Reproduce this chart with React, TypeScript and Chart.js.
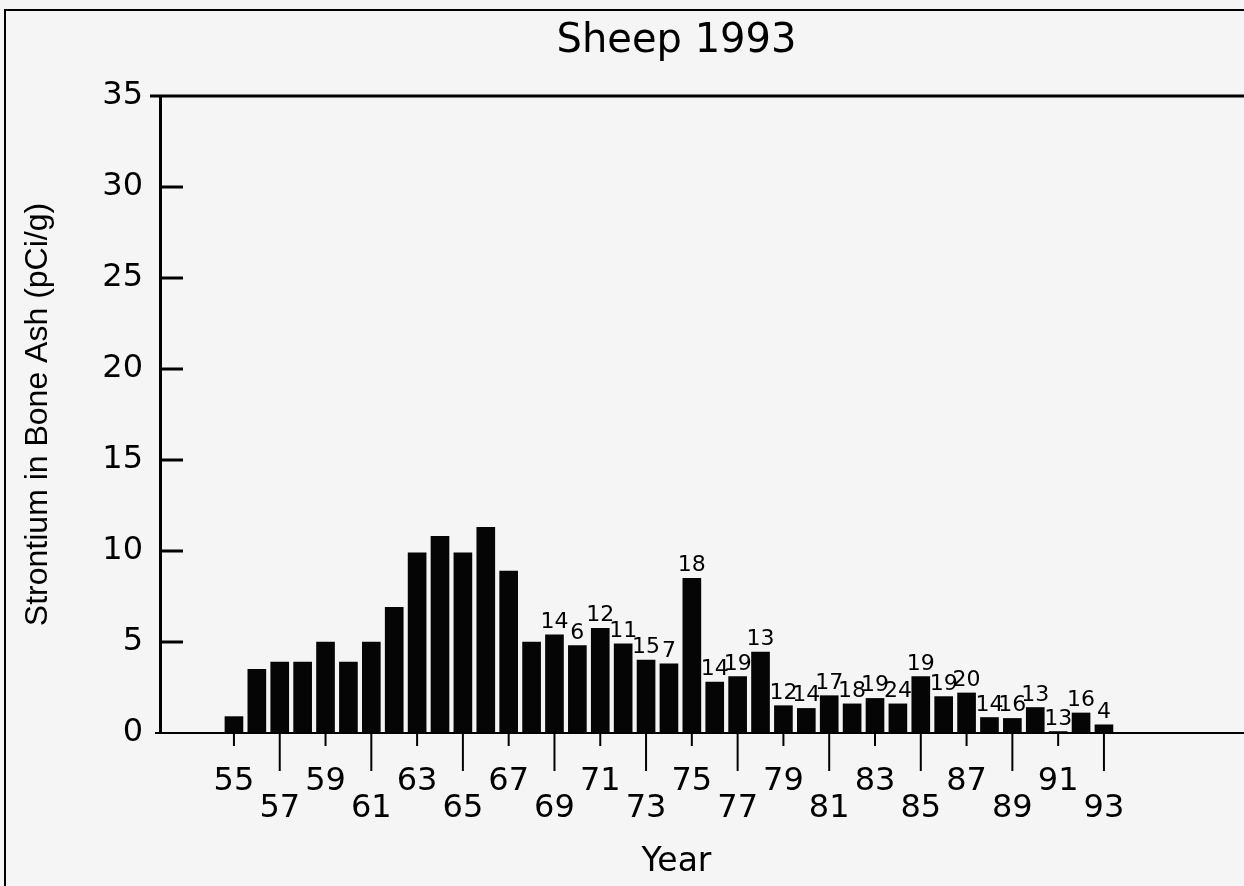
import React, { useEffect, useRef } from 'react';
import { Chart, registerables } from 'chart.js';

Chart.register(...registerables);

// Categories: sampling year (19xx)
const years = [
  55, 56, 57, 58, 59, 60, 61, 62, 63, 64, 65, 66, 67, 68, 69, 70, 71, 72, 73, 74,
  75, 76, 77, 78, 79, 80, 81, 82, 83, 84, 85, 86, 87, 88, 89, 90, 91, 92, 93,
];

// Strontium in bone ash (pCi/g)
const values = [
  0.9, 3.5, 3.9, 3.9, 5.0, 3.9, 5.0, 6.9, 9.9, 10.8, 9.9, 11.3, 8.9, 5.0, 5.4, 4.8, 5.75, 4.9, 4.0, 3.8,
  8.5, 2.8, 3.1, 4.45, 1.5, 1.35, 2.05, 1.6, 1.9, 1.6, 3.1, 2.0, 2.2, 0.85, 0.8, 1.4, 0.08, 1.1, 0.45,
];

// Number of samples shown above bars (null = no label)
const counts: (number | null)[] = [
  null, null, null, null, null, null, null, null, null, null, null, null, null, null,
  14, 6, 12, 11, 15, 7, 18, 14, 19, 13, 12, 14, 17, 18, 19, 24, 19, 19, 20, 14, 16, 13, 13, 16, 4,
];

// Labelled x ticks
const xTickYears = [55, 57, 59, 61, 63, 65, 67, 69, 71, 73, 75, 77, 79, 81, 83, 85, 87, 89, 91, 93];

const TITLE = 'Sheep 1993';
const X_TITLE = 'Year';
const Y_TITLE = 'Strontium in Bone Ash (pCi/g)';

const FONT = '"DejaVu Sans", sans-serif';

export default function App() {
  const ref = useRef<HTMLCanvasElement>(null);

  useEffect(() => {
    const canvas = ref.current;
    if (!canvas) return;

    const framePlugin = {
      id: 'frame',
      beforeDraw(chart: any) {
        const ctx = chart.ctx;
        ctx.save();
        ctx.fillStyle = '#f5f5f5';
        ctx.fillRect(0, 0, chart.width, chart.height);
        ctx.restore();
      },
      afterDraw(chart: any) {
        const { ctx, chartArea: ca } = chart;
        const ys = chart.scales.y;
        const xs = chart.scales.x;
        const y0 = ys.getPixelForValue(0);
        const yTop = ys.getPixelForValue(35);
        ctx.save();
        ctx.strokeStyle = '#000';
        // outer frame
        ctx.lineWidth = 2;
        ctx.beginPath();
        ctx.moveTo(5, chart.height);
        ctx.lineTo(5, 10);
        ctx.lineTo(chart.width, 10);
        ctx.stroke();
        // top plot line
        ctx.lineWidth = 3;
        ctx.beginPath();
        ctx.moveTo(ca.left - 10, yTop);
        ctx.lineTo(chart.width, yTop);
        ctx.stroke();
        // baseline
        ctx.lineWidth = 2;
        ctx.beginPath();
        ctx.moveTo(ca.left - 5, y0);
        ctx.lineTo(chart.width, y0);
        ctx.stroke();
        // inner y ticks
        ctx.lineWidth = 3;
        ys.ticks.forEach((t: any) => {
          if (t.value > 0 && t.value < 35) {
            const py = ys.getPixelForValue(t.value);
            ctx.beginPath();
            ctx.moveTo(ca.left, py);
            ctx.lineTo(ca.left + 23, py);
            ctx.stroke();
          }
        });
        // x tick marks, alternating short/long
        ctx.lineWidth = 2;
        xs.ticks.forEach((t: any, i: number) => {
          const px = xs.getPixelForValue(t.value);
          ctx.beginPath();
          ctx.moveTo(px, y0);
          ctx.lineTo(px, y0 + (i % 2 === 0 ? 13 : 38));
          ctx.stroke();
        });
        ctx.restore();
      },
    };

    const labelPlugin = {
      id: 'countLabels',
      afterDatasetsDraw(chart: any) {
        const ctx = chart.ctx;
        const meta = chart.getDatasetMeta(0);
        ctx.save();
        ctx.fillStyle = '#000';
        ctx.font = `22px ${FONT}`;
        ctx.textAlign = 'center';
        ctx.textBaseline = 'alphabetic';
        meta.data.forEach((bar: any, i: number) => {
          const c = counts[i];
          if (c == null) return;
          ctx.fillText(String(c), bar.x, bar.y - 7);
        });
        ctx.restore();
      },
    };

    const chart = new Chart(canvas, {
      type: 'bar',
      data: {
        datasets: [
          {
            data: years.map((yr, i) => ({ x: yr, y: values[i] })),
            backgroundColor: '#050505',
            borderWidth: 0,
            barThickness: 18,
          },
        ],
      },
      options: {
        animation: false,
        responsive: true,
        maintainAspectRatio: false,
        layout: { padding: { left: 0, right: 51, top: 0, bottom: 0 } },
        plugins: {
          legend: { display: false },
          tooltip: { enabled: false },
          title: {
            display: true,
            text: TITLE,
            fullSize: false,
            color: '#000',
            font: { family: FONT, size: 40, weight: 'normal' },
            padding: { top: 18, bottom: 30 },
          },
        },
        scales: {
          x: {
            type: 'linear',
            offset: false,
            min: 51.77,
            max: 96.89,
            afterBuildTicks: (s: any) => {
              s.ticks = xTickYears.map((v) => ({ value: v }));
            },
            afterFit: (s: any) => {
              s.height = 153;
            },
            grid: { display: false, drawTicks: false, offset: false },
            border: { display: false },
            ticks: {
              autoSkip: false,
              maxRotation: 0,
              padding: 35,
              color: '#000',
              font: { family: FONT, size: 32, lineHeight: 0.84 },
              callback: (v: any, i: number) => (i % 2 === 0 ? String(v) : ['', String(v)]),
            },
            title: {
              display: true,
              text: X_TITLE,
              color: '#000',
              font: { family: FONT, size: 33 },
              padding: { top: 0, bottom: 4 },
            },
          },
          y: {
            min: 0,
            max: 35,
            afterFit: (s: any) => {
              s.width = 160;
            },
            grid: { display: false, drawTicks: false },
            border: { display: true, width: 3, color: '#000' },
            ticks: {
              stepSize: 5,
              padding: 17,
              color: '#000',
              font: { family: FONT, size: 32 },
            },
            title: {
              display: true,
              text: Y_TITLE,
              color: '#000',
              font: { family: '"Liberation Sans", Arial, sans-serif', size: 32 },
              padding: { top: 19, bottom: 0 },
            },
          },
        },
      } as any,
      plugins: [framePlugin, labelPlugin],
    });

    return () => chart.destroy();
  }, []);

  return (
    <div
      style={{
        position: 'fixed',
        left: 0,
        top: 0,
        width: 1244,
        height: 886,
        background: '#f5f5f5',
      }}
    >
      <canvas ref={ref} />
    </div>
  );
}
